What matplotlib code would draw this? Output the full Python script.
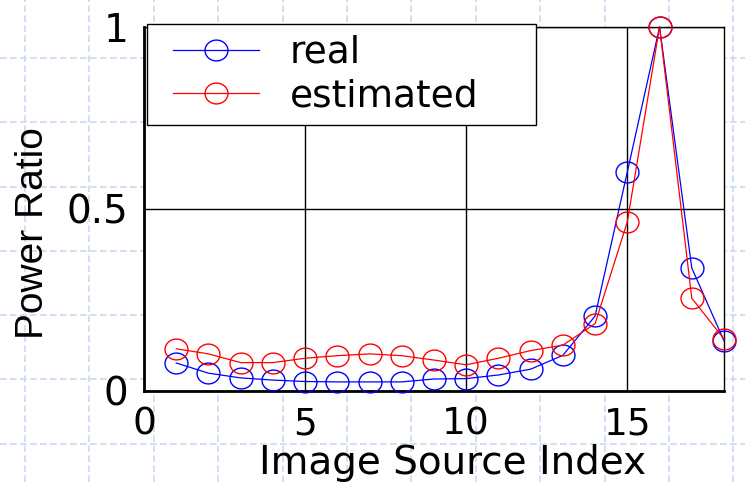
import matplotlib
matplotlib.use("Agg")
import matplotlib.pyplot as plt
from matplotlib.lines import Line2D
from matplotlib.path import Path
from matplotlib.transforms import Affine2D
from matplotlib.legend_handler import HandlerLine2D
import numpy as np

# ---- data ----
index = [1, 2, 3, 4, 5, 6, 7, 8, 9, 10, 11, 12, 13, 14, 15, 16, 17, 18]
real = [0.077, 0.049, 0.036, 0.030, 0.026, 0.025, 0.025, 0.025, 0.033, 0.034,
        0.044, 0.060, 0.098, 0.206, 0.602, 1.0, 0.338, 0.138]
estimated = [0.116, 0.102, 0.078, 0.078, 0.090, 0.097, 0.102, 0.097, 0.085, 0.072,
             0.090, 0.111, 0.126, 0.185, 0.465, 1.0, 0.255, 0.143]
xticks = [0, 5, 10, 15]
xtick_labels = ["0", "5", "10", "15"]
yticks = [0, 0.5, 1]
ytick_labels = ["0", "0.5", "1"]

plt.rcParams['font.family'] = ['DejaVu Sans']

W, H = 745, 482
fig = plt.figure(figsize=(W / 100, H / 100), dpi=100)
fig.patch.set_facecolor("white")

# faint slide-style dashed background grid
bg_col = (0.80, 0.85, 0.96)
for xp in np.arange(25, W, 64.4):
    fig.add_artist(Line2D([xp / W, xp / W], [0, 1], transform=fig.transFigure,
                          color=bg_col, lw=1.2, ls=(0, (4, 2)), zorder=0))
for yp in np.arange(58 - 64.3, H, 64.3):
    fig.add_artist(Line2D([0, 1], [1 - yp / H, 1 - yp / H], transform=fig.transFigure,
                          color=bg_col, lw=1.2, ls=(0, (4, 2)), zorder=0))

ax = fig.add_axes([144 / W, 1 - 391 / H, (724 - 144) / W, (391 - 27) / H])
ax.set_facecolor("white")
ax.set_zorder(2)

ell = Path.unit_circle().transformed(Affine2D().scale(1.1, 1.0))

ax.plot(index, real, color=(0, 0, 1), lw=0.9, marker=ell, ms=16.5,
        mfc='none', mec=(0, 0, 1), mew=1.0, label="real", clip_on=False, zorder=3)
ax.plot(index, estimated, color=(1, 0, 0), lw=0.9, marker=ell, ms=16.5,
        mfc='none', mec=(1, 0, 0), mew=1.0, label="estimated", clip_on=False, zorder=3)

ax.set_xlim(0, 18)
ax.set_ylim(0, 1)
ax.set_xticks(xticks)
ax.set_xticklabels(xtick_labels)
ax.set_yticks(yticks)
ax.set_yticklabels(ytick_labels)
ax.tick_params(axis='x', length=0, labelsize=27, pad=11)
ax.tick_params(axis='y', length=0, labelsize=28, pad=11)
ax.grid(True, color='black', lw=1.0)
ax.set_axisbelow(True)

for s in ['top', 'right']:
    ax.spines[s].set_linewidth(1.0)
for s in ['left', 'bottom']:
    ax.spines[s].set_linewidth(2.0)

ax.set_xlabel("Image Source Index", fontsize=28)
ax.xaxis.set_label_coords((453 - 144) / 580, (391 - 444) / 364)
ax.xaxis.label.set_va('top')
ax.set_ylabel("Power Ratio", fontsize=28, family=['Liberation Sans', 'DejaVu Sans'])
ax.yaxis.set_label_coords((33 - 144) / 580, (391 - 233) / 364)
ax.yaxis.label.set_va('center')

fs = 27
fs_px = fs * 100 / 72
xpad_px = 15.1
leg = ax.legend(loc='upper left',
                bbox_to_anchor=(147 / W, 0, (536 - 147) / W, 1 - 24 / H),
                bbox_transform=fig.transFigure, mode='expand',
                fontsize=fs, frameon=True, fancybox=False, framealpha=1,
                edgecolor='black', borderaxespad=0, borderpad=0.29,
                handlelength=(86 + xpad_px) / fs_px, handletextpad=31 / fs_px,
                labelspacing=0.2,
                handler_map={Line2D: HandlerLine2D(xpad=xpad_px / fs_px)})
leg.get_frame().set_linewidth(1.0)
leg.set_zorder(5)

fig.savefig("out.png", dpi=100)
